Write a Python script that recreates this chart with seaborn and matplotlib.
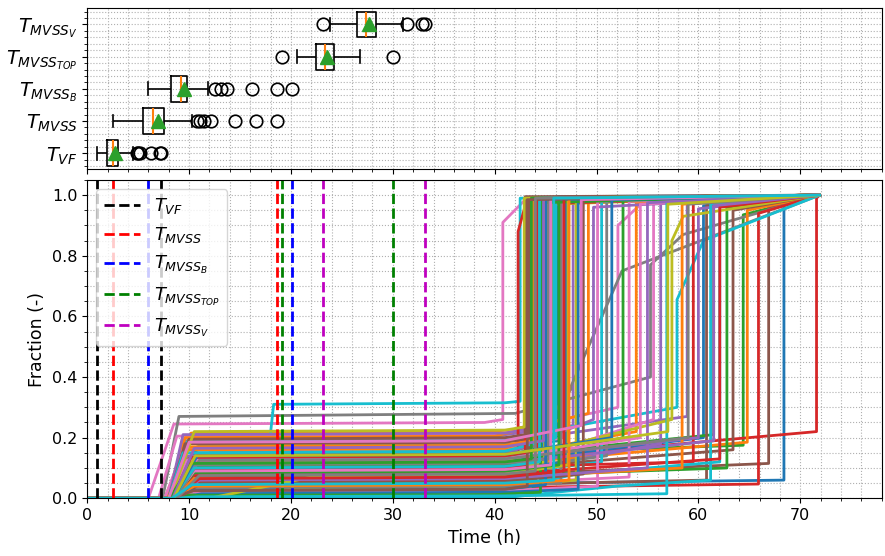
import numpy as np
import pandas as pd
import matplotlib
matplotlib.use("Agg")
import matplotlib.pyplot as plt
from matplotlib.ticker import AutoMinorLocator
import seaborn as sns

# ---------------- completion times per run (h) ----------------
t_vf = [0.92, 0.95, 1.0, 1.05, 1.1, 1.15, 1.2, 1.3, 1.45, 1.7,
        1.93, 1.95, 1.98, 2.02, 2.06, 2.1, 2.15, 2.22, 2.3, 2.4,
        2.49, 2.52, 2.55, 2.58, 2.62, 2.66, 2.72, 2.8, 2.88, 2.96,
        3.05, 3.1, 3.2, 3.5, 4.52, 4.85, 4.95, 5.17, 6.25, 7.14, 7.24]
t_mvss = [2.5, 2.6, 2.7, 2.8, 2.9, 3.0, 3.2, 3.4, 3.7, 4.2,
          5.5, 5.55, 5.6, 5.65, 5.7, 5.75, 5.8, 5.9, 6.1, 6.3,
          6.48, 6.5, 6.55, 6.6, 6.65, 6.7, 6.8, 6.9, 7.1, 7.3,
          7.5, 7.55, 7.6, 10.25, 10.74, 11.07, 11.46, 12.12, 14.5, 16.56, 18.6]
t_mvss_b = [6.0, 6.05, 6.1, 6.15, 6.2, 6.3, 6.4, 6.6, 6.9, 7.4,
            8.22, 8.25, 8.3, 8.35, 8.4, 8.5, 8.6, 8.7, 8.85, 9.0,
            9.17, 9.2, 9.25, 9.3, 9.35, 9.4, 9.45, 9.55, 9.62, 9.7,
            9.76, 9.8, 9.9, 10.2, 11.88, 12.54, 13.1, 13.75, 16.14, 18.6, 20.1]
t_mvss_top = [19.1, 20.56, 21.2, 21.6, 21.85, 22.0, 22.1, 22.2, 22.3, 22.4,
              22.45, 22.55, 22.65, 22.75, 22.85, 22.95, 23.05, 23.15, 23.25, 23.3,
              23.34, 23.45, 23.55, 23.65, 23.75, 23.85, 23.95, 24.05, 24.15, 24.2,
              24.25, 24.4, 24.6, 24.8, 25.0, 25.3, 25.6, 25.9, 26.3, 26.78, 30.05]
t_mvss_v = [23.15, 23.83, 24.6, 25.2, 25.6, 25.9, 26.1, 26.25, 26.35, 26.4,
            26.45, 26.55, 26.65, 26.75, 26.85, 26.95, 27.05, 27.15, 27.22, 27.28,
            27.33, 27.43, 27.53, 27.63, 27.73, 27.83, 27.93, 28.03, 28.13, 28.22,
            28.3, 28.5, 28.8, 29.1, 29.5, 29.9, 30.4, 31.03, 31.36, 32.83, 33.2]

series_labels = [r"$T_{VF}$", r"$T_{MVSS}$", r"$T_{MVSS_B}$",
                 r"$T_{MVSS_{TOP}}$", r"$T_{MVSS_V}$"]
series_colors = ["k", "r", "b", "g", "m"]

# ---------------- fraction curves, one per run ----------------
onset = [8.0, 7.6, 8.2, 8.5, 8.0, 8.3, 6.0, 7.4, 10.0, 17.3,
         8.1, 8.4, 8.6, 9.0, 8.3, 8.5, 7.0, 8.0, 8.8, 8.2,
         8.4, 7.8, 8.0, 8.7, 8.2, 8.6, 7.6, 8.5, 9.0, 8.3,
         8.3, 8.0, 8.5, 8.1, 8.0, 9.0, 8.4, 8.6, 11.0, 36.5,
         8.7, 31.0, 8.9, 8.2, 8.5, 8.0, 8.8, 8.3, 8.6, 40.5,
         8.5, 8.2, 8.4, 8.6, 8.1, 8.3, 8.0, 8.8, 8.4, 8.0,
         8.9, 8.5, 8.2, 8.4, 8.6, 8.9, 8.2, 8.4, 12.0, 8.6,
         8.2, 8.0, 8.4, 8.3, 8.6, 8.1, 8.5, 8.7, 8.2, 8.4,
         8.5, 8.3, 8.1, 8.6, 8.4, 8.2, 8.0, 8.8, 8.5, 8.3]
rise_end = [9.8, 10.2, 10.4, 11.0, 9.6, 10.0, 8.5, 9.0, 24.0, 18.3,
            9.8, 10.6, 11.0, 10.8, 10.0, 10.8, 8.8, 9.6, 11.0, 9.8,
            10.4, 9.6, 9.6, 11.0, 9.8, 10.5, 9.4, 10.8, 12.0, 10.5,
            10.4, 9.8, 10.6, 10.0, 9.4, 11.2, 10.4, 10.6, 20.0, 44.0,
            10.8, 36.0, 11.2, 10.0, 10.5, 9.6, 10.8, 10.2, 10.4, 46.0,
            10.4, 9.8, 10.4, 10.4, 9.8, 10.2, 10.0, 11.0, 10.2, 9.4,
            11.2, 10.5, 10.0, 10.2, 10.6, 11.2, 9.8, 10.2, 22.0, 10.8,
            10.0, 10.0, 10.5, 10.2, 11.0, 10.0, 10.5, 11.0, 10.5, 10.5,
            10.8, 10.5, 10.2, 11.0, 10.5, 10.4, 10.0, 11.0, 10.6, 10.3]
plateau = [0.045, 0.215, 0.14, 0.12, 0.20, 0.07, 0.245, 0.27, 0.06, 0.31,
           0.16, 0.11, 0.05, 0.03, 0.185, 0.09, 0.205, 0.19, 0.175, 0.185,
           0.12, 0.20, 0.135, 0.055, 0.08, 0.145, 0.16, 0.09, 0.15, 0.08,
           0.03, 0.13, 0.02, 0.10, 0.21, 0.04, 0.045, 0.15, 0.03, 0.05,
           0.17, 0.01, 0.07, 0.085, 0.13, 0.18, 0.11, 0.06, 0.12, 0.02,
           0.09, 0.16, 0.105, 0.075, 0.14, 0.125, 0.02, 0.035, 0.095, 0.15,
           0.015, 0.065, 0.01, 0.095, 0.115, 0.05, 0.125, 0.11, 0.07, 0.005,
           0.025, 0.17, 0.085, 0.135, 0.06, 0.195, 0.09, 0.125, 0.22, 0.10,
           0.14, 0.04, 0.115, 0.065, 0.165, 0.025, 0.185, 0.075, 0.14, 0.045]
knee_t = [45, 41, 42, 45, 40, 42, 39, 42, 42, 41,
          41, 43, 40, 40, 42, 41, 40, 44, 42, 40,
          42, 40, 41, 41, 42, 41, 41, 42, 41, 42,
          40, 40, 40, 42, 41, 40, 41, 41, 41, 48,
          40, 41, 41, 41, 42, 41, 42, 41, 41, 52,
          42, 41, 41, 41, 41, 41, 41, 41, 42, 41,
          41, 42, 40, 41, 42, 41, 41, 41, 41, 41,
          41, 41, 41, 41, 41, 41, 41, 41, 41, 41,
          41, 41, 41, 41, 41, 41, 41, 41, 41, 41]
knee_f = [0.05, 0.22, 0.15, 0.14, 0.205, 0.08, 0.25, 0.28, 0.08, 0.315,
          0.165, 0.12, 0.055, 0.035, 0.19, 0.10, 0.21, 0.20, 0.18, 0.19,
          0.125, 0.205, 0.14, 0.06, 0.09, 0.15, 0.165, 0.10, 0.155, 0.085,
          0.035, 0.135, 0.025, 0.105, 0.215, 0.045, 0.05, 0.155, 0.04, 0.08,
          0.175, 0.015, 0.075, 0.09, 0.135, 0.185, 0.115, 0.065, 0.125, 0.04,
          0.095, 0.165, 0.11, 0.08, 0.145, 0.13, 0.025, 0.04, 0.10, 0.155,
          0.02, 0.07, 0.012, 0.10, 0.12, 0.055, 0.13, 0.115, 0.08, 0.008,
          0.03, 0.175, 0.09, 0.14, 0.065, 0.20, 0.095, 0.13, 0.225, 0.105,
          0.145, 0.045, 0.12, 0.07, 0.17, 0.03, 0.19, 0.08, 0.145, 0.05]
jump_t = [68.4, 44.6, 64.4, 71.6, 47.7, 66.9, 40.8, 55.3, 45.3, 42.5,
          46.2, 64.8, 43.9, 65.9, 58.9, 63.4, 52.1, 47.5, 44.3, 57.9,
          60.5, 49.2, 61.5, 43.3, 56.3, 43.1, 46.7, 51.0, 45.8, 50.5,
          44.7, 53.9, 44.0, 59.5, 43.6, 60.8, 53.2, 43.8, 48.0, 62.1,
          43.2, 43.5, 62.8, 42.3, 60.0, 44.1, 55.6, 45.1, 57.4, 61.2,
          47.0, 45.6, 52.6, 62.1, 49.7, 43.4, 50.1, 46.5, 44.9, 46.0,
          48.2, 58.4, 44.5, 43.0, 61.5, 48.7, 54.3, 45.3, 47.2, 56.9,
          45.0, 43.7, 46.3, 44.2, 55.0, 43.0, 45.5, 59.0, 42.9, 44.4,
          51.5, 47.3, 43.6, 46.8, 44.8, 43.2, 48.5, 44.0, 57.0, 45.8]
pre_jump = [0.06, 0.25, 0.175, 0.22, 0.24, 0.115, 0.26, 0.40, 0.10, 0.32,
            0.19, 0.185, 0.07, 0.047, 0.27, 0.16, 0.30, 0.36, 0.20, 0.30,
            0.20, 0.28, 0.21, 0.08, 0.18, 0.17, 0.20, 0.14, 0.20, 0.12,
            0.05, 0.22, 0.04, 0.12, 0.23, 0.06, 0.07, 0.17, 0.06, 0.12,
            0.18, 0.03, 0.10, 0.10, 0.20, 0.20, 0.26, 0.08, 0.26, 0.06,
            0.12, 0.21, 0.20, 0.13, 0.26, 0.15, 0.04, 0.05, 0.12, 0.20,
            0.03, 0.10, 0.02, 0.11, 0.19, 0.08, 0.20, 0.13, 0.11, 0.015,
            0.045, 0.19, 0.11, 0.16, 0.10, 0.21, 0.11, 0.20, 0.235, 0.12,
            0.20, 0.06, 0.13, 0.09, 0.19, 0.04, 0.24, 0.09, 0.22, 0.06]
post_jump = [0.97, 0.985, 0.935, 0.99, 0.99, 0.96, 0.91, 0.77, 0.99, 0.99,
             0.995, 0.95, 0.99, 0.94, 0.975, 0.95, 0.90, 0.37, 0.80, 0.655,
             0.965, 0.99, 0.965, 0.97, 0.975, 0.99, 0.985, 0.985, 0.99, 0.98,
             0.985, 0.975, 0.98, 0.975, 0.99, 0.965, 0.98, 0.99, 0.99, 0.97,
             0.99, 0.99, 0.96, 0.88, 0.955, 0.985, 0.975, 0.985, 0.85, 0.97,
             0.99, 0.99, 0.985, 0.96, 0.96, 0.985, 0.98, 0.99, 0.99, 0.98,
             0.985, 0.97, 0.975, 0.99, 0.965, 0.985, 0.97, 0.99, 0.99, 0.975,
             0.985, 0.99, 0.99, 0.99, 0.975, 0.995, 0.99, 0.97, 0.99, 0.99,
             0.985, 0.99, 0.99, 0.99, 0.99, 0.985, 0.985, 0.99, 0.97, 0.99]
# runs that bend once more after the jump: run -> (time, fraction)
shoulder = {6: (43.0, 0.985), 7: (58.5, 0.87), 16: (54.5, 0.975),
            17: (52.5, 0.75), 18: (45.5, 0.97), 19: (60.5, 0.85),
            43: (43.2, 0.99), 48: (58.5, 0.93)}
t_end, f_end = 71.9, 1.0

# ---------------- tidy tables ----------------
box_order = [r"$T_{MVSS_V}$", r"$T_{MVSS_{TOP}}$", r"$T_{MVSS_B}$",
             r"$T_{MVSS}$", r"$T_{VF}$"]
samples = [t_vf, t_mvss, t_mvss_b, t_mvss_top, t_mvss_v]
box_df = pd.DataFrame({
    "label": [lab for lab, s in zip(series_labels, samples) for _ in s],
    "value": [v for s in samples for v in s],
})

records = []
for i in range(len(onset)):
    ts = [0.0, onset[i], rise_end[i], knee_t[i], jump_t[i], jump_t[i]]
    fs = [0.0, 0.0, plateau[i], knee_f[i], pre_jump[i], post_jump[i]]
    if i in shoulder:
        ts.append(shoulder[i][0])
        fs.append(shoulder[i][1])
    ts.append(t_end)
    fs.append(f_end)
    for t, f in zip(ts, fs):
        records.append({"run": f"run{i:02d}", "time": t, "fraction": f})
curve_df = pd.DataFrame(records)
runs = list(dict.fromkeys(curve_df["run"]))
tab10 = sns.color_palette("tab10", 10)
palette = {r: tab10[k % 10] for k, r in enumerate(runs)}

# ---------------- figure ----------------
fig = plt.figure(figsize=(8.85, 5.56), dpi=100)
ax_line = fig.add_axes([0.0986, 0.1038, 0.8977, 0.5725])
ax_box = fig.add_axes([0.0986, 0.6955, 0.8977, 0.2895], sharex=ax_line)

sns.lineplot(data=curve_df, x="time", y="fraction", hue="run", hue_order=runs,
             palette=palette, estimator=None, sort=False, legend=False,
             linewidth=2, ax=ax_line)

for s, col, lab in zip(samples, series_colors, series_labels):
    ax_line.axvline(min(s), color=col, ls="--", lw=2, label=lab)
    ax_line.axvline(max(s), color=col, ls="--", lw=2)

ax_line.set_xlim(0, 78)
ax_line.set_ylim(0, 1.05)
ax_line.minorticks_on()
ax_line.grid(True, which="both", linestyle=":", linewidth=0.8, color="#b0b0b0")
ax_line.set_xlabel("Time (h)", fontsize=12.5)
ax_line.set_ylabel("Fraction (-)", fontsize=12.5)
ax_line.tick_params(labelsize=11.5)
ax_line.legend(loc="upper left", fontsize=13, framealpha=0.8)

sns.boxplot(data=box_df, x="value", y="label", order=box_order, orient="h",
            width=0.8, fill=False, color="black", linewidth=1.2,
            showmeans=True,
            meanprops=dict(marker="^", markerfacecolor="#2ca02c",
                           markeredgecolor="#2ca02c", markersize=10),
            medianprops=dict(color="#ff7f0e", linewidth=1.5),
            flierprops=dict(marker="o", markersize=9, markerfacecolor="none",
                            markeredgecolor="black", markeredgewidth=1.2),
            ax=ax_box)
ax_box.set_xlabel("")
ax_box.set_ylabel("")
ax_box.yaxis.set_minor_locator(AutoMinorLocator(5))
ax_box.grid(True, which="both", linestyle=":", linewidth=0.8, color="#b0b0b0")
ax_box.tick_params(axis="x", labelbottom=False)
ax_box.tick_params(axis="y", labelsize=14)
ax_line.set_xlim(0, 78)

fig.savefig("out.png", dpi=100)
